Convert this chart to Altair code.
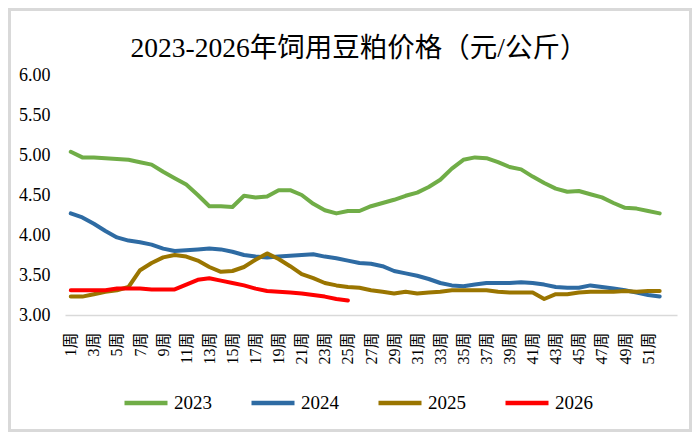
import altair as alt
import pandas as pd

weeks = list(range(1, 53))
years = ["2023", "2024", "2025", "2026"]
colors = ["#70AD47", "#2E6BA3", "#9A7500", "#FF0000"]

v2023 = [5.04, 4.97, 4.97, 4.96, 4.95, 4.94, 4.91, 4.88, 4.79, 4.71,
         4.63, 4.50, 4.36, 4.36, 4.35, 4.49, 4.47, 4.48, 4.56, 4.56,
         4.50, 4.39, 4.31, 4.27, 4.30, 4.30, 4.36, 4.40, 4.44, 4.49,
         4.53, 4.60, 4.69, 4.83, 4.94, 4.97, 4.96, 4.91, 4.85, 4.82,
         4.73, 4.65, 4.58, 4.54, 4.55, 4.51, 4.47, 4.40, 4.34, 4.33,
         4.30, 4.27]
v2024 = [4.27, 4.22, 4.14, 4.05, 3.97, 3.93, 3.91, 3.88, 3.83, 3.80,
         3.81, 3.82, 3.83, 3.82, 3.79, 3.75, 3.73, 3.72, 3.73, 3.74,
         3.75, 3.76, 3.73, 3.71, 3.68, 3.65, 3.64, 3.61, 3.55, 3.52,
         3.49, 3.45, 3.40, 3.37, 3.36, 3.38, 3.40, 3.40, 3.40, 3.41,
         3.40, 3.38, 3.35, 3.34, 3.34, 3.37, 3.35, 3.33, 3.31, 3.28,
         3.25, 3.23]
v2025 = [3.23, 3.23, 3.26, 3.29, 3.31, 3.35, 3.56, 3.65, 3.72, 3.75,
         3.73, 3.68, 3.60, 3.54, 3.55, 3.60, 3.69, 3.77, 3.70, 3.61,
         3.51, 3.46, 3.40, 3.37, 3.35, 3.34, 3.31, 3.29, 3.27, 3.29,
         3.27, 3.28, 3.29, 3.31, 3.31, 3.31, 3.31, 3.29, 3.28, 3.28,
         3.28, 3.20, 3.26, 3.26, 3.28, 3.29, 3.29, 3.29, 3.30, 3.29,
         3.30, 3.30]
v2026 = [3.31, 3.31, 3.31, 3.31, 3.33, 3.33, 3.33, 3.32, 3.32, 3.32,
         3.38, 3.44, 3.46, 3.43, 3.40, 3.37, 3.33, 3.30, 3.29, 3.28,
         3.27, 3.25, 3.23, 3.20, 3.18]

y_ticks = [3.0, 3.5, 4.0, 4.5, 5.0, 5.5, 6.0]
x_ticks = list(range(1, 52, 2))

rows = []
for yr, vals in zip(years, [v2023, v2024, v2025, v2026]):
    for w, v in zip(weeks, vals):
        rows.append({"year": yr, "week": w, "value": v})
df = pd.DataFrame(rows)

LATIN = "Liberation Serif, Noto Sans CJK SC"
W, H = 612, 240
PL, PT, PR, PB = 57, 67, 15, 117

lines = alt.Chart(df).mark_line(strokeWidth=4, strokeCap="round", strokeJoin="round").encode(
    x=alt.X("week:Q", scale=alt.Scale(domain=[0.5, 53.5], nice=False, zero=False),
            axis=alt.Axis(values=x_ticks, labelExpr="datum.value + '周'", labelAngle=270,
                          labelFont=LATIN, labelFontSize=16, labelColor="#000000",
                          labelPadding=17, ticks=False, grid=False,
                          domainColor="#D9D9D9", domainWidth=1.5, title=None,
                          labelOverlap=False, labelBound=False, labelFlush=False)),
    y=alt.Y("value:Q", scale=alt.Scale(domain=[3, 6], nice=False, zero=False),
            axis=alt.Axis(values=y_ticks, format=".2f", labelFont=LATIN, labelFontSize=18,
                          labelColor="#000000", labelPadding=15, ticks=False, grid=False,
                          domain=False, title=None)),
    color=alt.Color("year:N", scale=alt.Scale(domain=years, range=colors),
                    legend=alt.Legend(title=None, orient="none", legendX=57, legendY=304,
                                      direction="horizontal", symbolType="stroke",
                                      symbolSize=1849, symbolStrokeWidth=4.5,
                                      labelFont=LATIN, labelFontSize=19, labelColor="#000000",
                                      labelOffset=4, columnPadding=30, padding=0)),
    order=alt.Order("week:Q"),
)

frame = alt.Chart(pd.DataFrame({"a": [0]})).mark_rect(
    fill=None, stroke="#D9D9D9", strokeWidth=3
).encode(
    x=alt.value(-PL + 1.5), x2=alt.value(W + PR - 1.5),
    y=alt.value(-PT + 1.5), y2=alt.value(H + PB - 1.5),
)

chart = alt.layer(lines, frame).properties(
    width=W, height=H,
    title=alt.TitleParams("2023-2026年饲用豆粕价格（元/公斤）", font=LATIN, fontSize=27.5,
                          fontWeight="normal", color="#000000", anchor="middle",
                          frame="group", baseline="middle", offset=0, dx=-12, dy=68),
    padding={"left": PL, "top": PT, "right": PR, "bottom": PB},
    autosize=alt.AutoSizeParams(type="none"),
).configure_view(stroke=None)

chart.save("out.html", embed_options={"renderer": "svg", "actions": False})
